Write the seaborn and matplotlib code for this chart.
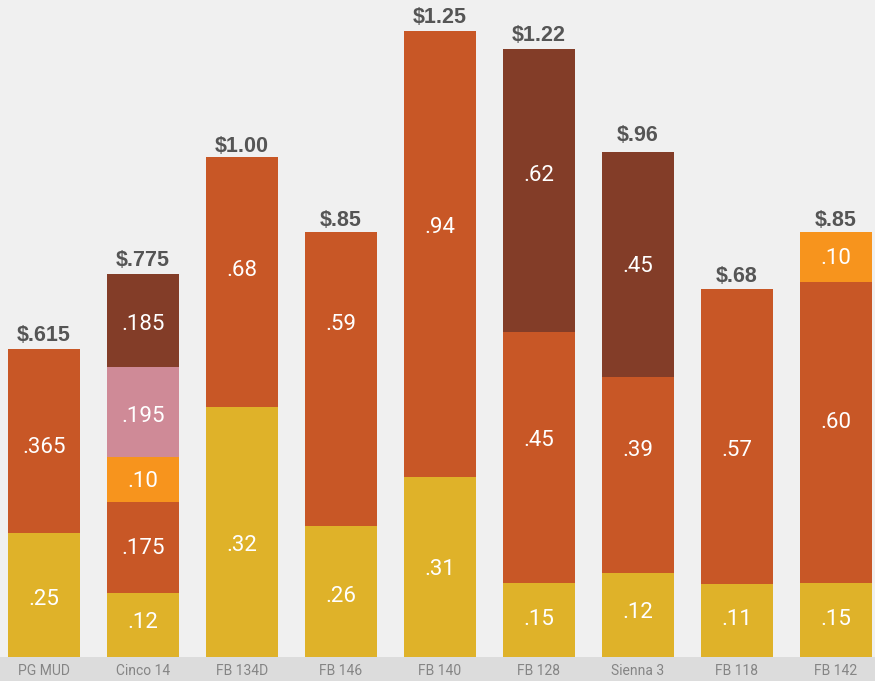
import matplotlib
matplotlib.use("Agg")
import matplotlib.pyplot as plt
import seaborn as sns
import numpy as np
from matplotlib.font_manager import FontProperties

categories = ["PG MUD", "Cinco 14", "FB 134D", "FB 146", "FB 140", "FB 128", "Sienna 3", "FB 118", "FB 142"]

# segment heights as drawn in the picture (bottom to top)
gold_vals   = [0.248, 0.128, 0.499, 0.262, 0.359, 0.148, 0.168, 0.146, 0.148]
red_vals    = [0.367, 0.182, 0.499, 0.587, 0.891, 0.501, 0.391, 0.589, 0.601]
orange_vals = [0, 0.090, 0, 0, 0, 0, 0, 0, 0.100]
pink_vals   = [0, 0.180, 0, 0, 0, 0, 0, 0, 0]
brown_vals  = [0, 0.184, 0, 0, 0, 0.565, 0.449, 0, 0]

# printed labels
gold_labels   = [".25", ".12", ".32", ".26", ".31", ".15", ".12", ".11", ".15"]
red_labels    = [".365", ".175", ".68", ".59", ".94", ".45", ".39", ".57", ".60"]
orange_labels = ["", ".10", "", "", "", "", "", "", ".10"]
pink_labels   = ["", ".195", "", "", "", "", "", "", ""]
brown_labels  = ["", ".185", "", "", "", ".62", ".45", "", ""]
total_labels  = ["$.615", "$.775", "$1.00", "$.85", "$1.25", "$1.22", "$.96", "$.68", "$.85"]

# label placement tweaks (pixels, positive = downward from segment centre)
gold_off   = [2, -5, 11, 2.5, 0, -3, -5, -3.5, -3]
red_off    = [4, -1.5, -14, -57, -29, -19.5, -27, 11.5, -12.5]
orange_off = [0, -0.5, 0, 0, 0, 0, 0, 0, -1]
pink_off   = [0, 2, 0, 0, 0, 0, 0, 0, 0]
brown_off  = [0, 2, 0, 0, 0, -17.5, -0.5, 0, 0]
total_gap  = [16, 16, 13, 14, 15.5, 15.5, 19, 15, 14]

layers = [gold_vals, red_vals, orange_vals, pink_vals, brown_vals]
labels = [gold_labels, red_labels, orange_labels, pink_labels, brown_labels]
offsets = [gold_off, red_off, orange_off, pink_off, brown_off]
colors = ["#DFB229", "#C85726", "#F7941D", "#CF8A97", "#833D28"]

sns.set_theme(style="white")
plt.rcParams["font.family"] = ["Roboto", "DejaVu Sans"]

seg_size = 16
seg_fp = FontProperties(family=["Roboto", "DejaVu Sans"], size=seg_size)
tick_fp = FontProperties(family=["Roboto", "DejaVu Sans"], size=10)
cap = seg_size * 100 / 72 * 0.711
tot_size = 15.5
tot_fp = FontProperties(family=["Liberation Sans", "DejaVu Sans"], size=tot_size, weight="bold")
tcap = tot_size * 100 / 72 * 0.716

W, H = 875, 681
fig = plt.figure(figsize=(W / 100, H / 100), dpi=100, facecolor="#DCDCDC")
ax = fig.add_axes([0, 24 / H, 1, 1 - 24 / H])
ax.set_facecolor("#F0F0F0")

bottom = np.zeros(len(categories))
for vals, labs, offs, c in zip(layers, labels, offsets, colors):
    vals = np.array(vals, dtype=float)
    sns.barplot(x=categories, y=vals, bottom=bottom, color=c, width=0.727,
                saturation=1, ax=ax, linewidth=0, errorbar=None)
    for i, v in enumerate(vals):
        if v > 0 and labs[i]:
            ax.annotate(labs[i], (i, bottom[i] + v / 2), xytext=(0, -offs[i] - cap / 2),
                        textcoords="offset pixels", ha="center", va="baseline",
                        color="white", fontproperties=seg_fp)
    bottom = bottom + vals

for i, t in enumerate(bottom):
    ax.annotate(total_labels[i], (i, t), xytext=(0, total_gap[i] - tcap / 2),
                textcoords="offset pixels", ha="center", va="baseline",
                color="#555555", fontproperties=tot_fp)

ax.set_ylim(0, 657 / 500.8)
ax.set_xlim(-44 / 99, 8 + 39 / 99)
for s in ax.spines.values():
    s.set_visible(False)
ax.set_yticks([])
ax.set_ylabel("")
ax.tick_params(axis="x", length=0, pad=5, labelcolor="#858585")
for lab in ax.get_xticklabels():
    lab.set_fontproperties(tick_fp)

fig.savefig("out.png", dpi=100, facecolor=fig.get_facecolor())
